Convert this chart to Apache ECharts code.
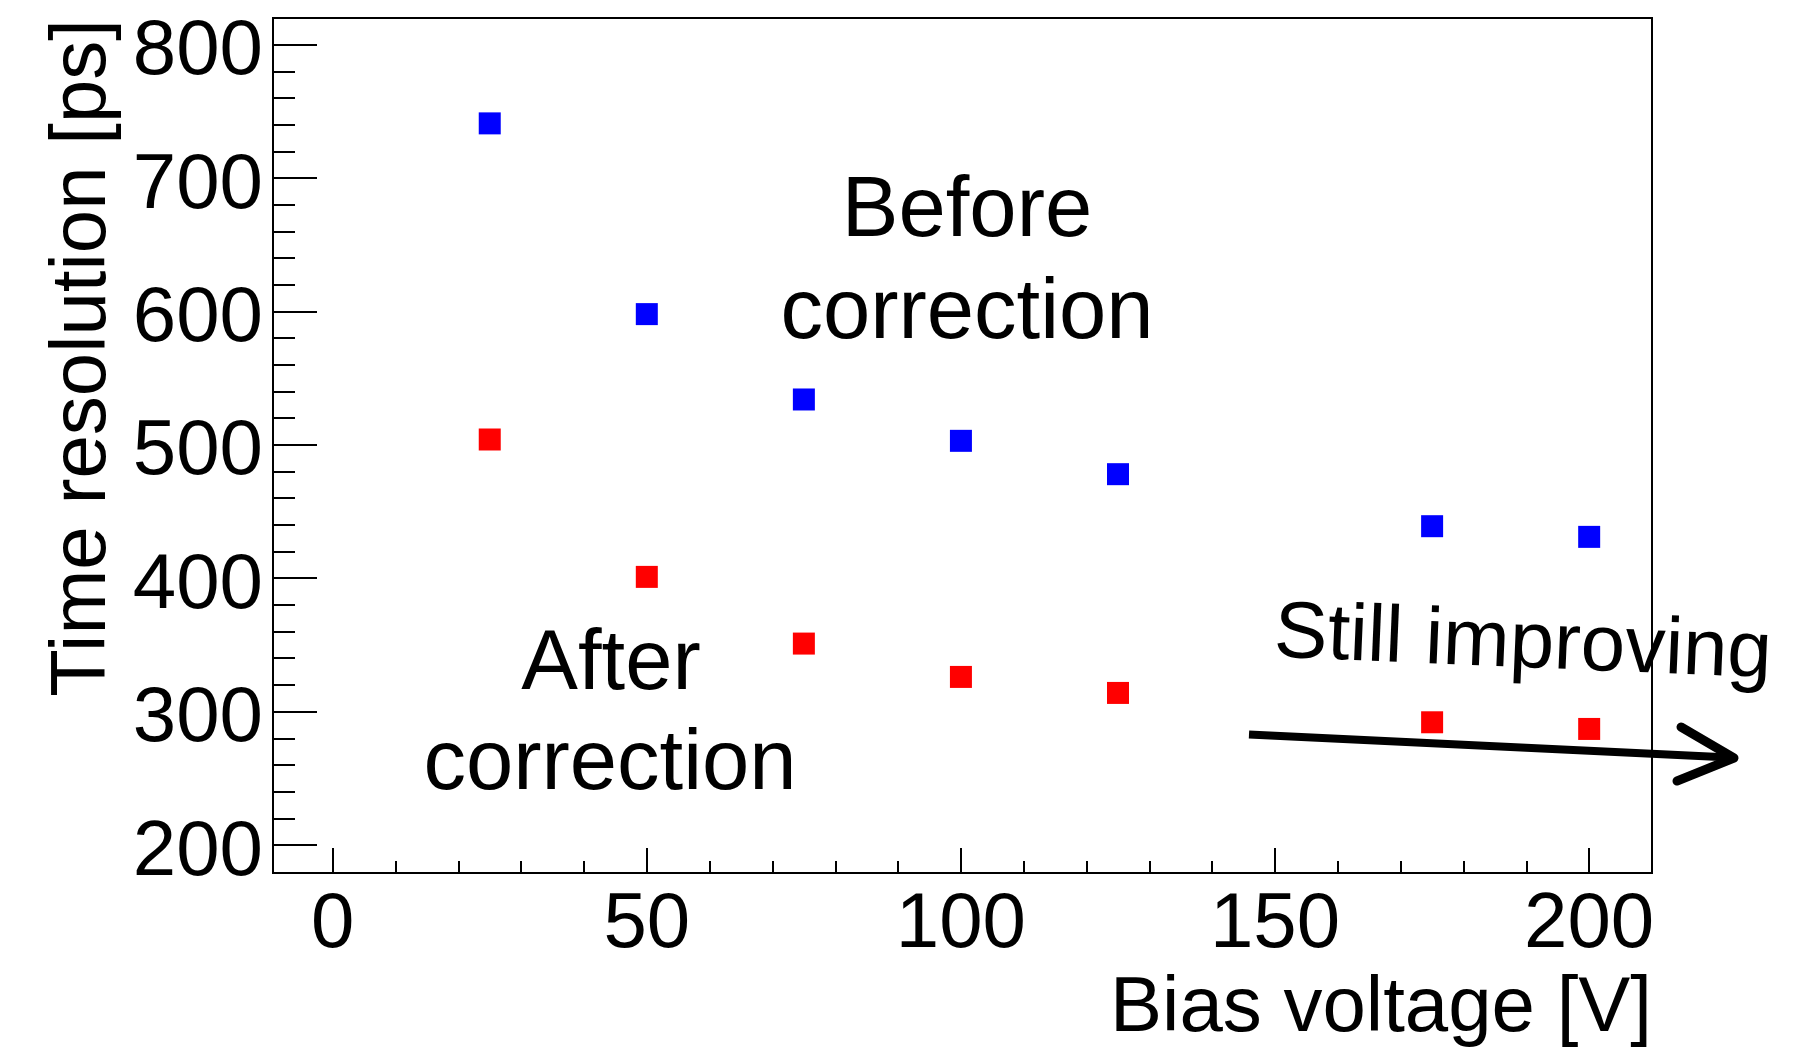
<!DOCTYPE html>
<html>
<head>
<meta charset="utf-8">
<script src="https://cdn.jsdelivr.net/npm/echarts@6/dist/echarts.min.js"></script>
<style>
html,body{margin:0;padding:0;background:#fff;}
#chart{width:1808px;height:1047px;}
</style>
</head>
<body>
<div id="chart"></div>
<script>
// ---- data ----
const biasVoltage = [25, 50, 75, 100, 125, 175, 200];
const beforeCorrection = [741, 598, 534, 503, 478, 439, 431];
const afterCorrection = [504, 401, 351, 326, 314, 292, 287];

const xMajorTicks = [0, 50, 100, 150, 200];
const xMinorTicks = [10, 20, 30, 40, 60, 70, 80, 90, 110, 120, 130, 140, 160, 170, 180, 190];
const yMajorTicks = [200, 300, 400, 500, 600, 700, 800];
const yMinorTicks = [220, 240, 260, 280, 320, 340, 360, 380, 420, 440, 460, 480, 520, 540, 560, 580, 620, 640, 660, 680, 720, 740, 760, 780];

const xTitle = 'Bias voltage [V]';
const yTitle = 'Time resolution [ps]';

// ---- chart ----
const FONT = "'Liberation Sans', Arial, Helvetica, sans-serif";
const chart = echarts.init(document.getElementById('chart'), null, {renderer: 'canvas'});

const pairs = (xs, ys) => xs.map((x, i) => [x, ys[i]]);

const X_MIN = -9.5, X_MAX = 210, Y_MIN = 179, Y_MAX = 820;

function xAxisCfg(values, len, withLine, withLabel) {
  return {
    type: 'value', gridIndex: 0, position: 'bottom', offset: 0,
    min: X_MIN, max: X_MAX,
    axisLine: {show: withLine, onZero: false, lineStyle: {color: '#000', width: 2}},
    axisTick: {show: true, inside: true, length: len, customValues: values, lineStyle: {color: '#000', width: 2}},
    axisLabel: {show: withLabel, customValues: values, fontSize: 78, fontFamily: FONT, color: '#000', margin: 13},
    splitLine: {show: false}
  };
}
function yAxisCfg(values, len, withLine, withLabel) {
  return {
    type: 'value', gridIndex: 0, position: 'left', offset: 0,
    min: Y_MIN, max: Y_MAX,
    axisLine: {show: withLine, onZero: false, lineStyle: {color: '#000', width: 2}},
    axisTick: {show: true, inside: true, length: len, customValues: values, lineStyle: {color: '#000', width: 2}},
    axisLabel: {show: withLabel, customValues: values, fontSize: 78, fontFamily: FONT, color: '#000', margin: 10, verticalAlign: 'top', lineHeight: 16},
    splitLine: {show: false}
  };
}

const option = {
  animation: false,
  backgroundColor: '#fff',
  grid: {left: 273, top: 18, right: 156, bottom: 174, show: true, borderColor: '#000', borderWidth: 2, backgroundColor: 'transparent'},
  xAxis: [
    xAxisCfg(xMajorTicks, 25, true, true),
    xAxisCfg(xMinorTicks, 12, false, false)
  ],
  yAxis: [
    yAxisCfg(yMajorTicks, 44, true, true),
    yAxisCfg(yMinorTicks, 22, false, false)
  ],
  series: [
    {name: 'Before correction', type: 'scatter', xAxisIndex: 0, yAxisIndex: 0,
     symbol: 'rect', symbolSize: 22, itemStyle: {color: '#0000ff', opacity: 1},
     data: pairs(biasVoltage, beforeCorrection)},
    {name: 'After correction', type: 'scatter', xAxisIndex: 0, yAxisIndex: 0,
     symbol: 'rect', symbolSize: 22, itemStyle: {color: '#ff0000', opacity: 1},
     data: pairs(biasVoltage, afterCorrection)}
  ],
  graphic: [
    {type: 'text', x: 1652, y: 1009, style: {text: xTitle, font: '78px ' + FONT, fill: '#000', align: 'right', verticalAlign: 'middle'}},
    {type: 'text', x: 83, y: 19, rotation: Math.PI / 2, style: {text: yTitle, font: '78px ' + FONT, fill: '#000', align: 'right', verticalAlign: 'middle'}},
    {type: 'text', x: 967, y: 213, style: {text: 'Before', font: '85px ' + FONT, fill: '#000', align: 'center', verticalAlign: 'middle'}},
    {type: 'text', x: 967, y: 315, style: {text: 'correction', font: '85px ' + FONT, fill: '#000', align: 'center', verticalAlign: 'middle'}},
    {type: 'text', x: 611, y: 666, style: {text: 'After', font: '85px ' + FONT, fill: '#000', align: 'center', verticalAlign: 'middle'}},
    {type: 'text', x: 610, y: 766, style: {text: 'correction', font: '85px ' + FONT, fill: '#000', align: 'center', verticalAlign: 'middle'}},
    {type: 'text', x: 1523, y: 645, rotation: -2.4 * Math.PI / 180, style: {text: 'Still improving', font: '80px ' + FONT, fill: '#000', align: 'center', verticalAlign: 'middle'}},
    {type: 'polyline', shape: {points: [[1249, 734.5], [1730, 757.5]]}, style: {stroke: '#000', lineWidth: 8, lineCap: 'butt', fill: null}},
    {type: 'polyline', shape: {points: [[1681, 727], [1734, 758], [1677, 781]]}, style: {stroke: '#000', lineWidth: 9, lineCap: 'round', lineJoin: 'round', fill: null}}
  ]
};
chart.setOption(option);
</script>
</body>
</html>
